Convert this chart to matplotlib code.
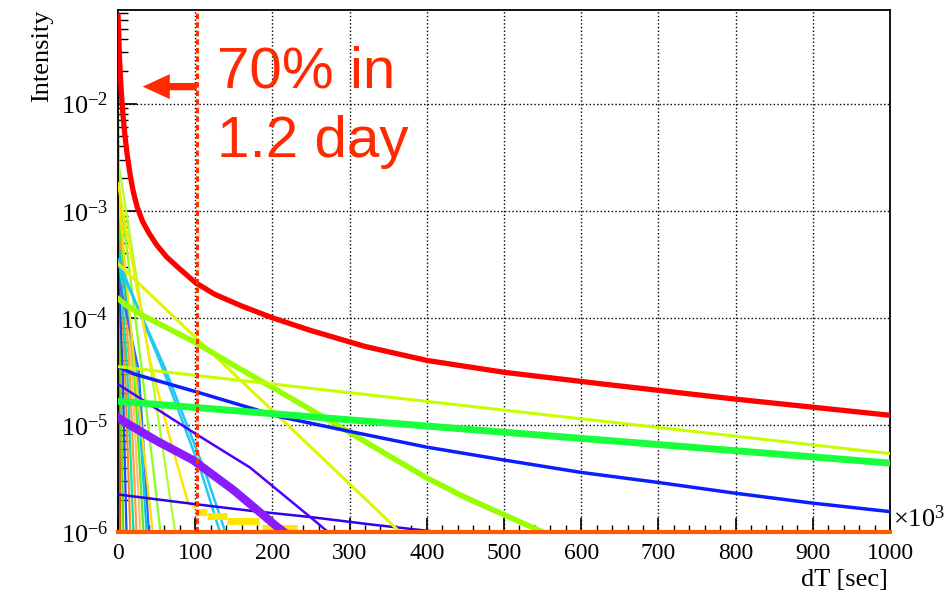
import matplotlib
matplotlib.use('Agg')
import matplotlib.pyplot as plt
from matplotlib.ticker import LogLocator, MultipleLocator, NullFormatter

plt.rcParams['font.family'] = ['Liberation Serif', 'DejaVu Serif']
plt.rcParams['mathtext.default'] = 'regular'

# ---- data (x in 10^3 sec) ----
red_x = [0, 1, 2, 3, 4, 5, 7, 9, 12, 16, 20, 25, 32, 40, 50, 63, 79, 100, 125, 160,
         200, 250, 320, 400, 500, 630, 800, 1000]
red_y = [6.6e-2, 4.2e-2, 2.6e-2, 1.86e-2, 1.38e-2, 1.07e-2, 7.1e-3, 5.0e-3, 3.3e-3, 2.1e-3,
         1.48e-3, 1.07e-3, 7.9e-4, 6.2e-4, 4.8e-4, 3.7e-4, 2.9e-4, 2.14e-4, 1.66e-4, 1.29e-4,
         1.0e-4, 7.6e-5, 5.4e-5, 4.0e-5, 3.1e-5, 2.4e-5, 1.74e-5, 1.23e-5]

lime_x = [0, 10, 30, 60, 100, 150, 200, 250, 300, 350, 400, 450, 500, 550]
lime_y = [1.51e-4, 1.32e-4, 1.07e-4, 8.3e-5, 5.9e-5, 3.6e-5, 2.24e-5, 1.38e-5, 8.5e-6,
          5.2e-6, 3.2e-6, 2.1e-6, 1.45e-6, 1.0e-6]

blue_x = [0, 20, 50, 100, 150, 210, 300, 400, 500, 600, 700, 800, 900, 1000]
blue_y = [3.5e-5, 3.0e-5, 2.6e-5, 2.05e-5, 1.6e-5, 1.19e-5, 8.7e-6, 6.2e-6, 4.7e-6, 3.6e-6,
          2.9e-6, 2.3e-6, 1.86e-6, 1.55e-6]

green_x = [0, 1000]
green_y = [1.66e-5, 4.4e-6]

chart_x = [0, 1000]
chart_y = [3.5e-5, 5.4e-6]

ygreen_x = [0, 330, 365]
ygreen_y = [3.2e-4, 1.75e-6, 1.0e-6]

violet_x = [0, 100, 171, 249, 272]
violet_y = [2.4e-5, 8.3e-6, 4.0e-6, 1.38e-6, 1.0e-6]

purple_x = [0, 15, 50, 97, 150, 206, 215]
purple_y = [1.17e-5, 1.0e-5, 7.1e-6, 4.7e-6, 2.45e-6, 1.12e-6, 1.0e-6]

indigo_x = [0, 100, 171, 249, 330, 415]
indigo_y = [2.24e-6, 1.82e-6, 1.58e-6, 1.38e-6, 1.17e-6, 1.0e-6]

cyan1_x = [0, 57, 107, 132]
cyan1_y = [3.5e-4, 3.5e-5, 3.8e-6, 1.0e-6]
cyan2_x = [0, 60, 112, 139]
cyan2_y = [3.2e-4, 3.5e-5, 3.8e-6, 1.0e-6]

yellow_x = [0, 7, 41, 70, 91, 100]
yellow_y = [1.8e-3, 9.5e-4, 4.1e-5, 6.3e-6, 1.86e-6, 1.7e-6]
yellow_bin_lo = [100, 115, 141, 186]
yellow_bin_hi = [115, 141, 183, 232]
yellow_bin_y = [1.55e-6, 1.41e-6, 1.26e-6, 1.08e-6]

# fast decays near zero: start value, x where ~3.2e-5, x where 1e-6
fast_colors = ['#e06010', '#66dd00', '#1a4cff', '#ff8c1a', '#00e6b0', '#ffa040',
               '#ffc070', '#55ee22', '#00ccdd', '#3366ff', '#f5e000', '#88ff22', '#aaff33']
fast_start = [2e-3, 8e-3, 4e-4, 1.2e-3, 6e-4, 1.5e-3, 2.5e-3, 1.2e-3, 5e-4, 2.5e-4, 1.5e-3, 2e-3, 3e-3]
fast_mid = [1.5, 3, 6, 9, 12, 15, 18, 21, 24, 27, 22, 31, 43]
fast_end = [3, 7, 11, 16, 20, 24, 29, 33, 37, 40, 45, 55, 74]
fast_mid_y = 3.2e-5
floor_y = 1e-6

t_cut = 102

fig = plt.figure(figsize=(9.52, 5.98), dpi=100)
ax = fig.add_axes([118 / 952, 1 - 532 / 598, 772 / 952, 522 / 598])
ax.set_yscale('log')
ax.set_xlim(0, 1000)
ax.set_ylim(1e-6, 0.0748)

for c, s, m, e in zip(fast_colors, fast_start, fast_mid, fast_end):
    ax.plot([0, m, e], [s, fast_mid_y, floor_y], color=c, lw=1.6, zorder=2)

ax.plot(cyan1_x, cyan1_y, color='#20c8f5', lw=1.8, zorder=3)
ax.plot(cyan2_x, cyan2_y, color='#20c8f5', lw=1.8, zorder=3)
ax.plot(yellow_x, yellow_y, color='#ffe600', lw=1.8, zorder=3)
ax.hlines(yellow_bin_y, yellow_bin_lo, yellow_bin_hi, color='#ffe600', lw=5, zorder=3)
ax.plot(indigo_x, indigo_y, color='#3300ee', lw=1.8, zorder=3)
ax.plot(violet_x, violet_y, color='#5000ff', lw=1.8, zorder=3)
ax.plot(purple_x, purple_y, color='#8a1cff', lw=6, zorder=3)
ax.plot(ygreen_x, ygreen_y, color='#e0f500', lw=2.2, zorder=3)
ax.plot(lime_x, lime_y, color='#99ff00', lw=4, zorder=3)
ax.plot(blue_x, blue_y, color='#0a1eff', lw=2.5, zorder=3)
ax.plot(green_x, green_y, color='#1aff3c', lw=5, zorder=3)
ax.plot(chart_x, chart_y, color='#c8ff00', lw=2.2, zorder=3)
ax.plot(red_x, red_y, color='#ff0000', lw=3.8, zorder=4)
ax.plot([0, 1000], [floor_y, floor_y], color='#ff5a00', lw=3, zorder=5, clip_on=False)

# 1.2 day marker
ax.axvline(t_cut, color='#ff3300', lw=2.2, dashes=(1.8, 1.0), zorder=6)
ax.annotate('', xy=(32, 0.0144), xytext=(t_cut, 0.0144),
            arrowprops=dict(arrowstyle='simple,head_length=1.3,head_width=1.2,tail_width=0.35',
                            mutation_scale=15, color='#ff2a00', lw=0, shrinkA=0, shrinkB=0),
            zorder=7)
fig.text(217 / 952, 1 - 88 / 598, '70% in', family='Liberation Sans', fontsize=42,
         color='#ff2a00', va='baseline', ha='left')
fig.text(217 / 952, 1 - 157 / 598, '1.2 day', family='Liberation Sans', fontsize=42,
         color='#ff2a00', va='baseline', ha='left')

# axes styling
ax.xaxis.set_major_locator(MultipleLocator(100))
ax.xaxis.set_minor_locator(MultipleLocator(20))
ax.yaxis.set_major_locator(LogLocator(base=10, numticks=20))
ax.yaxis.set_minor_locator(LogLocator(base=10, subs=range(2, 10), numticks=20))
ax.yaxis.set_minor_formatter(NullFormatter())
ax.grid(True, which='major', color='black', ls=':', lw=1, zorder=1)
ax.tick_params(axis='both', which='both', direction='in', top=False, right=False, color='black')
ax.tick_params(axis='y', which='major', length=14, width=1.2, labelsize=19, pad=7)
ax.tick_params(axis='y', which='minor', length=7, width=1)
ax.tick_params(axis='x', which='major', length=10, width=1.2, labelsize=17, pad=8)
ax.tick_params(axis='x', which='minor', length=5, width=1)
for sp in ax.spines.values():
    sp.set_linewidth(1.3)
ax.set_axisbelow(True)

ax.text(1.004, 0.0, '×10$^{3}$', transform=ax.transAxes, fontsize=19, ha='left', va='bottom')
fig.text(888 / 952, 1 - 580 / 598, 'dT [sec]', fontsize=19, ha='right', va='center')
fig.text(42 / 952, 1 - 10 / 598, 'Intensity', fontsize=19, rotation=90, ha='center', va='top')

fig.savefig('out.png', dpi=100)
